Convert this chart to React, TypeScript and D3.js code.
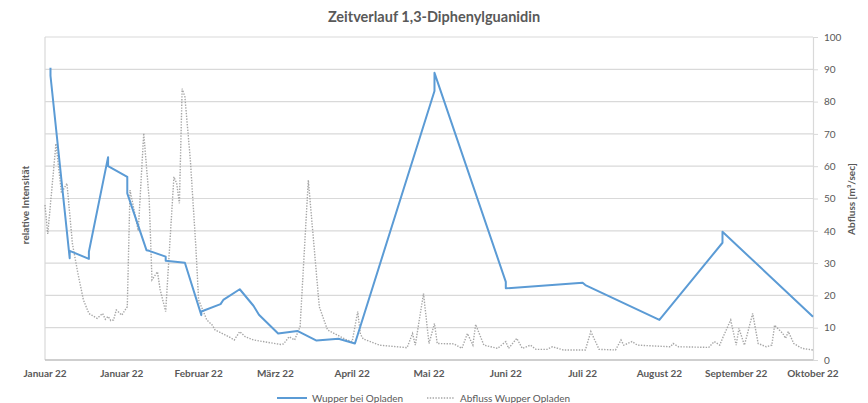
import React, { useRef, useEffect } from "react";
import * as d3 from "d3";

// days since 1 Jan 2022
const tickDays = [0, 28, 56, 84, 112, 140, 168, 196, 224, 252, 280];
const tickLabels = ["Januar 22", "Januar 22", "Februar 22", "März 22", "April 22", "Mai 22",
  "Juni 22", "Juli 22", "August 22", "September 22", "Oktober 22"];
const yTicks = [0, 10, 20, 30, 40, 50, 60, 70, 80, 90, 100];

// Wupper bei Opladen (relative Intensität)
const wupperDays = [2, 2, 9, 9, 16, 16, 23, 23, 30, 30, 37, 38, 44, 44, 51, 57, 57, 64, 65, 71,
  76, 78, 85, 92, 99, 107, 113, 142, 142, 168, 168, 196, 197, 224, 247, 247, 280];
const wupperValues = [90.5, 88, 31.5, 33.8, 31.3, 33.5, 62.8, 60, 56.7, 51.6, 34, 33.8, 32, 30.7,
  30.1, 13.9, 15, 17.3, 18.6, 21.9, 16.8, 14, 8.2, 9, 6, 6.6, 5.1, 83.3, 88.9, 24.2, 22.2, 23.9,
  23.2, 12.4, 36.3, 39.7, 13.4];

// Abfluss Wupper Opladen (m³/sec)
const abflussDays = [0, 1, 4, 6, 8, 10, 12, 14, 16, 19, 21, 22, 23, 24, 25, 26, 28, 30, 31, 34,
  36, 38, 39, 41, 42, 44, 45, 47, 48, 49, 50, 51, 53, 55, 56, 59, 61, 62, 67, 69, 71, 73, 76, 86,
  87, 89, 91, 93, 96, 100, 103, 110, 112, 114, 115, 116, 122, 132, 134, 135, 138, 140, 142, 143,
  149, 152, 154, 156, 157, 160, 165, 168, 169, 172, 174, 177, 179, 183, 185, 189, 197, 199, 202,
  208, 210, 211, 214, 216, 223, 228, 229, 231, 242, 244, 246, 247, 250, 252, 253, 255, 258, 260,
  263, 265, 266, 269, 270, 271, 273, 276, 280];
const abflussValues = [48, 39, 67, 51.7, 54.7, 36, 26.8, 18.6, 14.4, 12.9, 14.4, 12.6, 13.5, 12.2,
  12.4, 15.5, 13.9, 16.5, 52.6, 40, 70.2, 49.5, 24.8, 27.3, 21.7, 15, 29, 56.7, 54.7, 48.5, 84,
  81.5, 61.9, 35, 18.6, 12.4, 10.8, 9.3, 7.2, 6.2, 8.8, 7.2, 6.2, 4.8, 5, 7.2, 6.2, 10.3, 55.7,
  16.5, 9.3, 6.2, 5.7, 15, 8, 6.5, 4.6, 3.8, 8.2, 4.6, 20.6, 5.1, 11.3, 5.1, 5, 3.6, 8.2, 4.6, 11,
  4.6, 3.6, 5.7, 3.6, 6.7, 3.6, 4.6, 3.3, 3.3, 4.1, 3.1, 3.1, 8.8, 3.3, 3.1, 6.2, 4.6, 5.7, 4.6,
  4.3, 4.1, 5.1, 4.1, 3.9, 5.7, 4.6, 6.7, 12.4, 4.6, 9.8, 4.6, 14.4, 5.1, 4.1, 4.6, 10.8, 8.2, 6.7,
  8.8, 5.1, 3.6, 3.1];

const W = 868, H = 403;
const font = "Lato, 'Open Sans', sans-serif";
const textCol = "#595959";
const blue = "#5b9bd5";
const grey = "#a6a6a6";

function App() {
  const ref = useRef<SVGSVGElement>(null);

  useEffect(() => {
    const svg = d3.select(ref.current);
    svg.selectAll("*").remove();

    const x = d3.scaleLinear().domain([0, 280]).range([45, 813]);
    const y = d3.scaleLinear().domain([0, 100]).range([360, 37]);

    // grid
    svg.append("g")
      .selectAll("line")
      .data(yTicks.slice(1))
      .enter()
      .append("line")
      .attr("x1", x(0)).attr("x2", x(280))
      .attr("y1", d => y(d)).attr("y2", d => y(d))
      .attr("stroke", "#d9d9d9").attr("stroke-width", 1.2);

    // left axis line (no labels)
    svg.append("line")
      .attr("x1", x(0)).attr("x2", x(0)).attr("y1", y(100)).attr("y2", y(0))
      .attr("stroke", "#d9d9d9").attr("stroke-width", 1.2);

    // right axis
    const right = svg.append("g").attr("transform", "translate(" + x(280) + ",0)")
      .call(d3.axisRight(y).tickValues(yTicks).tickSize(5).tickPadding(6));
    right.select(".domain").attr("stroke", "#d9d9d9").attr("stroke-width", 1.2);
    right.selectAll(".tick line").attr("stroke", "#d9d9d9");
    right.selectAll("text").attr("fill", textCol).style("font-family", font).style("font-size", "10px");

    // bottom axis
    svg.append("line")
      .attr("x1", x(0)).attr("x2", x(280)).attr("y1", y(0)).attr("y2", y(0))
      .attr("stroke", "#bfbfbf").attr("stroke-width", 1.5);
    svg.append("g")
      .selectAll("text")
      .data(tickDays)
      .enter()
      .append("text")
      .attr("x", d => x(d))
      .attr("y", 377)
      .attr("text-anchor", "middle")
      .attr("fill", textCol)
      .style("font-family", font).style("font-size", "10px").style("font-weight", "bold")
      .text((d, i) => tickLabels[i]);

    // series
    const abfluss = abflussDays.map((d, i) => [d, abflussValues[i]] as [number, number]);
    const wupper = wupperDays.map((d, i) => [d, wupperValues[i]] as [number, number]);
    const line = d3.line<[number, number]>().x(d => x(d[0])).y(d => y(d[1]));

    svg.append("path")
      .attr("d", line(abfluss))
      .attr("fill", "none").attr("stroke", grey).attr("stroke-width", 1.4)
      .attr("stroke-dasharray", "1.4,1.4");
    svg.append("path")
      .attr("d", line(wupper))
      .attr("fill", "none").attr("stroke", blue).attr("stroke-width", 2)
      .attr("stroke-linejoin", "round");

    // title
    svg.append("text")
      .attr("x", W / 2).attr("y", 22)
      .attr("text-anchor", "middle").attr("fill", textCol)
      .style("font-family", font).style("font-size", "14.5px").style("font-weight", "bold")
      .text("Zeitverlauf 1,3-Diphenylguanidin");

    // axis titles
    svg.append("text")
      .attr("transform", "translate(29,205) rotate(-90)")
      .attr("text-anchor", "middle").attr("fill", textCol)
      .style("font-family", font).style("font-size", "10px").style("font-weight", "bold")
      .text("relative Intensität");
    svg.append("text")
      .attr("transform", "translate(855,199) rotate(-90)")
      .attr("text-anchor", "middle").attr("fill", textCol)
      .style("font-family", font).style("font-size", "10px").style("font-weight", "bold")
      .text("Abfluss [m³/sec]");

    // legend
    const lg = svg.append("g");
    lg.append("line").attr("x1", 277).attr("x2", 307).attr("y1", 398).attr("y2", 398)
      .attr("stroke", blue).attr("stroke-width", 2);
    lg.append("text").attr("x", 312).attr("y", 401.5).attr("fill", textCol)
      .style("font-family", font).style("font-size", "10px")
      .text("Wupper bei Opladen");
    lg.append("line").attr("x1", 427).attr("x2", 455).attr("y1", 398).attr("y2", 398)
      .attr("stroke", grey).attr("stroke-width", 1.4).attr("stroke-dasharray", "1.4,1.4");
    lg.append("text").attr("x", 460).attr("y", 401.5).attr("fill", textCol)
      .style("font-family", font).style("font-size", "10px")
      .text("Abfluss Wupper Opladen");
  }, []);

  return (
    <svg ref={ref} width={W} height={H}
      style={{ position: "absolute", left: 0, top: 0, background: "#fff" }} />
  );
}

export default App;
